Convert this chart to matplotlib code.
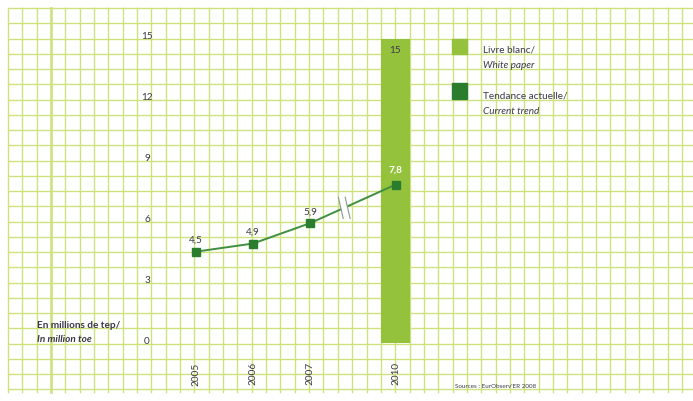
import matplotlib
matplotlib.use("Agg")
import matplotlib.pyplot as plt
from matplotlib.patches import Rectangle
from matplotlib import font_manager as fm
from matplotlib.transforms import ScaledTranslation

# ---- data ----
years = ["2005", "2006", "2007", "2010"]
trend_values = [4.5, 4.9, 5.9, 7.8]
trend_labels = ["4,5", "4,9", "5,9", "7,8"]
white_paper_year = "2010"
white_paper_value = 15
yticks = [0, 3, 6, 9, 12, 15]

# categorical positions (gap before 2010 for the axis break)
xpos = [0, 1, 2, 3.5]

W, H = 693, 401
DPI = 100
fig = plt.figure(figsize=(W / DPI, H / DPI), dpi=DPI)
fig.patch.set_facecolor("white")

avail = {f.name for f in fm.fontManager.ttflist}
fam = "Lato" if "Lato" in avail else "DejaVu Sans"
plt.rcParams["font.family"] = [fam, "DejaVu Sans"]
TXT = "#3b3848"
GRID = "#cde17e"
LIGHT = "#95c23d"
DARK = "#2b7d2e"
LINE = "#3f8f3f"
FS = 7.2

# ---- background grid (pixel coords) ----
bg = fig.add_axes([0, 0, 1, 1])
bg.set_xlim(0, W)
bg.set_ylim(H, 0)
bg.axis("off")
gx0, gy0, dx, dy = 8, 8, 14.34, 15.25
nx, ny = 48, 26
for i in range(nx):
    x = gx0 + i * dx
    lw = 1.9 if i == 3 else 1.0
    bg.plot([x, x], [gy0, 392], color=GRID, lw=lw, zorder=0)
for j in range(ny):
    y = gy0 + j * dy
    bg.plot([gx0, W], [y, y], color=GRID, lw=1.0, zorder=0)

# legend
bg.add_patch(Rectangle((452, 39), 15, 15, color=LIGHT, zorder=2))
bg.add_patch(Rectangle((452, 83), 15, 16, color=DARK, zorder=2))
bg.text(483, 50, "Livre blanc/", fontsize=FS, color=TXT, va="center", ha="left")
bg.text(483, 66, "White paper", fontsize=FS, color=TXT, va="center", ha="left", style="italic")
bg.text(483, 96, "Tendance actuelle/", fontsize=FS, color=TXT, va="center", ha="left")
bg.text(483, 111, "Current trend", fontsize=FS, color=TXT, va="center", ha="left", style="italic")

# unit label
bg.text(37, 325, "En millions de tep/", fontsize=FS, color=TXT, va="center", ha="left", fontweight="bold")
bg.text(37, 339, "In million toe", fontsize=FS, color=TXT, va="center", ha="left",
        fontweight="bold", style="italic")

# source
bg.text(455, 386, "Sources : EurObserv'ER 2008", fontsize=4.5, color=TXT, va="center", ha="left")

# ---- main axes ----
# pixel mapping: x = 196 + 57*pos ; y = 343 - 20.3*v
ax_l, ax_r = 160, 430
Y0, SY = 343, 20.3
ylo, yhi = -0.2, 16
px_top = Y0 - yhi * SY
px_bot = Y0 - ylo * SY
ax = fig.add_axes([ax_l / W, (H - px_bot) / H, (ax_r - ax_l) / W, (px_bot - px_top) / H])
ax.patch.set_alpha(0)
ax.set_xlim((ax_l - 196) / 57, (ax_r - 196) / 57)
ax.set_ylim(ylo, yhi)
for sp in ax.spines.values():
    sp.set_visible(False)

# bar
bar_x = xpos[years.index(white_paper_year)]
ax.bar([bar_x], [white_paper_value], width=0.5, color=LIGHT, zorder=2)
ax.text(bar_x, white_paper_value - 0.35, "15", ha="center", va="top", fontsize=FS, color=TXT, zorder=5)

# trend line
ax.plot(xpos, trend_values, color=LINE, lw=1.4, marker="s", markersize=5.5,
        markerfacecolor=DARK, markeredgecolor=DARK, zorder=4)
for i, (x, v, lab) in enumerate(zip(xpos, trend_values, trend_labels)):
    if i == len(xpos) - 1:
        ax.annotate(lab, (x, v), xytext=(0, 7), textcoords="offset points", ha="center",
                    va="bottom", fontsize=FS, color="white", fontweight="bold", zorder=5)
    else:
        ax.annotate(lab, (x, v), xytext=(0, 5), textcoords="offset points", ha="center",
                    va="bottom", fontsize=FS, color=TXT, zorder=5)

# axis break marks on the segment between 2007 and 2010
t = 0.40
bx = xpos[2] + t * (xpos[3] - xpos[2])
by = trend_values[2] + t * (trend_values[3] - trend_values[2])
h, s, g = 0.55, 0.045, 0.06
ax.fill([bx - g - s, bx + g - s, bx + g + s, bx - g + s],
        [by + h, by + h, by - h, by - h], color="white", zorder=5, lw=0)
for off in (-g, g):
    ax.plot([bx + off - s, bx + off + s], [by + h, by - h],
            color="#8a9a8a", lw=0.8, zorder=6, solid_capstyle="butt")

ax.set_yticks(yticks)
ax.set_yticklabels([str(v) for v in yticks])
ax.set_xticks(xpos)
ax.set_xticklabels(years, rotation=90)
ax.tick_params(axis="y", length=0, pad=9.4, labelsize=FS, labelcolor=TXT)
ax.tick_params(axis="x", length=0, pad=11, labelsize=FS, labelcolor=TXT)
shift = ScaledTranslation(0, 3 / DPI, fig.dpi_scale_trans)
for lab in ax.get_yticklabels():
    lab.set_ha("center")
    lab.set_transform(lab.get_transform() + shift)

fig.savefig("out.png", dpi=DPI)
